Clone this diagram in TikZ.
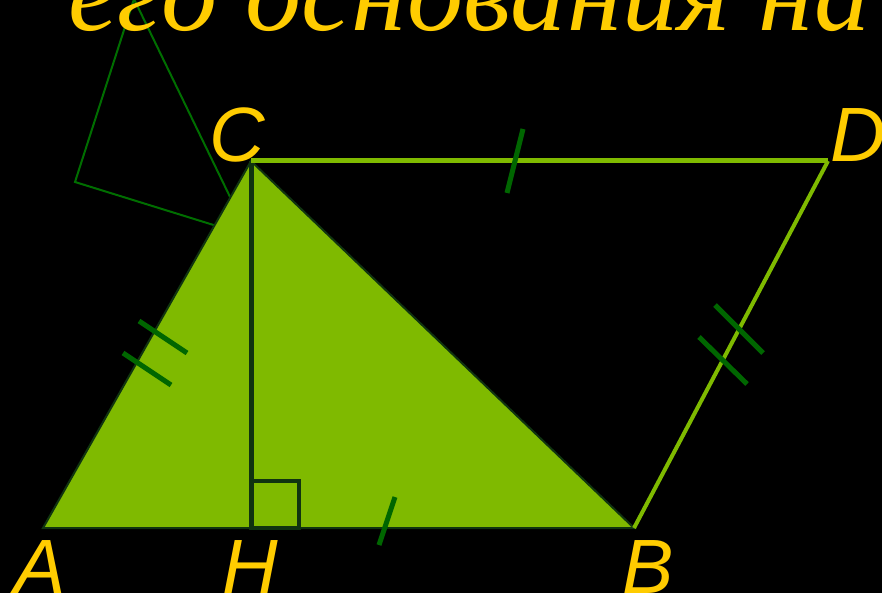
\documentclass[tikz,border=0pt]{standalone}
\usepackage{fontspec}
\setmainfont{Liberation Serif}
\newfontfamily\lblfont{Liberation Sans}
\usepackage{graphicx}
\definecolor{fillgreen}{RGB}{127,186,0}
\definecolor{tickgreen}{RGB}{0,102,0}
\definecolor{darkline}{RGB}{16,52,16}
\definecolor{ylw}{RGB}{255,204,0}
\definecolor{auxgreen}{RGB}{0,110,0}
\begin{document}
\begin{tikzpicture}[x=1pt,y=-1pt,
  lbl/.style={text=ylw,font=\lblfont\itshape\fontsize{77}{80}\selectfont,inner sep=0pt,anchor=base west},
  tickmark/.style={draw=tickgreen,line width=5pt},
  sideline/.style={draw=fillgreen,line width=5pt},
  auxline/.style={draw=auxgreen,line width=2pt},
  tri/.style={fill=fillgreen,draw=darkline,line width=2pt,line join=miter},
  altitude/.style={draw=darkline,line width=5pt},
  rightangle/.style={draw=darkline,line width=4pt}]
\fill[black] (0,0) rectangle (882,593);
\useasboundingbox (0,0) rectangle (882,593);
\clip (0,0) rectangle (882,593);
\coordinate (A) at (43,528);
\coordinate (H) at (251,528);
\coordinate (B) at (634,528);
\coordinate (C) at (251,161);
\coordinate (D) at (828,161);
\coordinate (P) at (134,-1);
\coordinate (Q) at (75,182);
\coordinate (R) at (249,236);
% auxiliary triangle behind
\draw[auxline] (P) -- (Q) -- (R) -- cycle;
% main triangle
\filldraw[tri] (A) -- (B) -- (C) -- cycle;
% altitude and right angle
\draw[altitude] (C) -- (H);
\draw[rightangle] (251,481) rectangle (299,528);
% parallelogram sides
\draw[sideline] (C) -- (D);
\draw[sideline,line width=4pt] (D) -- (B);
% tick marks
\draw[tickmark] (523,129) -- (507,193);
\draw[tickmark] (395,497) -- (379,545);
\draw[tickmark] (139,321) -- (187,353);
\draw[tickmark] (123,353) -- (171,385);
\draw[tickmark] (715,305) -- (763,353);
\draw[tickmark] (699,337) -- (747,384);
% labels
\node[lbl] (lA) at (14,593) {A};
\node[lbl] (lH) at (222,593) {H};
\node[lbl] (lB) at (622,593) {B};
\node[lbl] (lC) at (209,162) {C};
\node[lbl] (lD) at (830,162) {D};
% title text
\node[text=ylw,inner sep=0pt,anchor=base west,font=\itshape\fontsize{110}{112}\selectfont] (title) at (68,31) {\resizebox{802pt}{\height}{его основания на}};
\end{tikzpicture}
\end{document}
